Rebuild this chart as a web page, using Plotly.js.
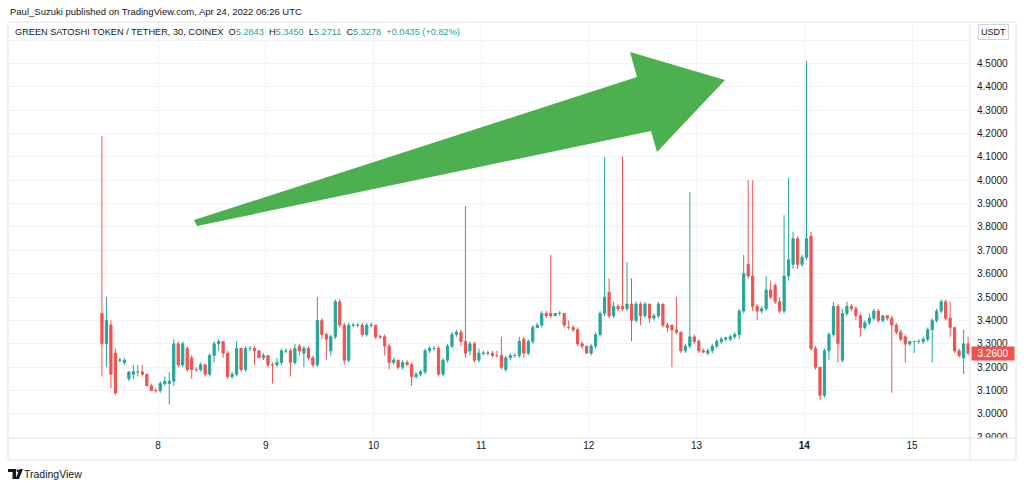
<!DOCTYPE html>
<html><head><meta charset="utf-8">
<script src="https://cdn.plot.ly/plotly-3.0.1.min.js"></script>
<style>html,body{margin:0;padding:0;background:#fff;}#chart{width:1024px;height:487px;}</style>
</head><body><div id="chart"></div>
<script>
// hourly candles, first one at day 7, 11:30
const startDay = 7 + 11.5 / 24;
const stepDays = 1 / 24;

const openP = [
3.43,3.30,3.38,3.26,3.23,3.22,3.15,3.17,3.18,3.18,3.17,3.12,3.10,3.10,3.13,3.13,3.14,3.30,3.21,3.28,
3.24,3.19,3.19,3.21,3.17,3.25,3.30,3.31,3.26,3.16,3.17,3.28,3.19,3.28,3.28,3.27,3.24,3.25,3.21,3.21,
3.22,3.27,3.27,3.22,3.29,3.26,3.28,3.24,3.21,3.40,3.34,3.27,3.33,3.48,3.38,3.23,3.38,3.38,3.38,3.34,
3.38,3.38,3.33,3.33,3.29,3.22,3.23,3.20,3.22,3.21,3.16,3.17,3.18,3.27,3.28,3.28,3.17,3.23,3.29,3.34,
3.35,3.31,3.27,3.30,3.23,3.26,3.26,3.26,3.25,3.25,3.19,3.24,3.25,3.25,3.32,3.26,3.31,3.37,3.38,3.43,
3.43,3.42,3.43,3.43,3.37,3.37,3.36,3.30,3.29,3.26,3.29,3.34,3.43,3.52,3.42,3.46,3.46,3.45,3.47,3.40,
3.47,3.42,3.47,3.41,3.42,3.47,3.38,3.38,3.36,3.35,3.27,3.29,3.33,3.31,3.27,3.26,3.27,3.29,3.31,3.32,
3.32,3.33,3.34,3.44,3.64,3.59,3.46,3.44,3.45,3.53,3.55,3.48,3.44,3.59,3.64,3.75,3.64,3.67,3.76,3.28,
3.20,3.08,3.27,3.34,3.46,3.23,3.43,3.46,3.45,3.42,3.37,3.39,3.41,3.44,3.40,3.42,3.41,3.38,3.35,3.33,
3.30,3.31,3.31,3.31,3.32,3.36,3.40,3.44,3.48,3.41,3.37,3.27,3.24,3.30];
const highP = [
4.19,3.50,3.40,3.28,3.24,3.24,3.18,3.21,3.21,3.21,3.17,3.13,3.11,3.14,3.16,3.18,3.32,3.31,3.31,3.29,
3.25,3.20,3.22,3.21,3.26,3.31,3.32,3.31,3.27,3.18,3.31,3.28,3.29,3.29,3.29,3.27,3.26,3.25,3.22,3.24,
3.28,3.28,3.28,3.30,3.30,3.29,3.29,3.25,3.50,3.41,3.35,3.34,3.49,3.49,3.39,3.39,3.39,3.39,3.39,3.39,
3.39,3.38,3.34,3.34,3.30,3.24,3.23,3.23,3.23,3.22,3.18,3.19,3.28,3.29,3.29,3.29,3.24,3.30,3.35,3.36,
3.36,3.89,3.31,3.31,3.28,3.27,3.27,3.27,3.27,3.33,3.25,3.26,3.26,3.33,3.33,3.32,3.38,3.39,3.44,3.44,
3.68,3.43,3.44,3.43,3.40,3.38,3.37,3.31,3.29,3.30,3.35,3.44,4.10,3.58,3.48,3.47,4.10,3.65,3.58,3.48,
3.48,3.48,3.47,3.43,3.48,3.47,3.39,3.38,3.50,3.35,3.30,3.95,3.34,3.32,3.28,3.28,3.30,3.32,3.33,3.33,
3.34,3.35,3.45,3.68,4.00,4.00,3.47,3.46,3.59,3.57,3.56,3.50,3.85,4.01,3.78,3.76,3.68,4.51,3.78,3.29,
3.20,3.28,3.35,3.48,3.47,3.45,3.48,3.47,3.46,3.43,3.40,3.43,3.45,3.45,3.42,3.42,3.42,3.39,3.36,3.34,
3.31,3.31,3.32,3.33,3.37,3.41,3.45,3.49,3.49,3.48,3.37,3.28,3.36,3.33];
const lowP = [
3.16,3.20,3.11,3.08,3.22,3.21,3.14,3.15,3.16,3.16,3.12,3.10,3.09,3.09,3.12,3.04,3.12,3.20,3.20,3.18,
3.15,3.18,3.18,3.16,3.16,3.22,3.27,3.24,3.15,3.15,3.16,3.18,3.18,3.27,3.21,3.24,3.23,3.20,3.13,3.20,
3.21,3.26,3.16,3.21,3.25,3.20,3.23,3.20,3.20,3.32,3.23,3.25,3.32,3.37,3.21,3.22,3.37,3.37,3.33,3.33,
3.37,3.32,3.32,3.25,3.19,3.21,3.19,3.19,3.21,3.12,3.15,3.16,3.17,3.26,3.27,3.16,3.16,3.22,3.28,3.33,
3.29,3.24,3.25,3.22,3.22,3.25,3.25,3.24,3.24,3.19,3.18,3.23,3.24,3.24,3.24,3.25,3.30,3.37,3.37,3.41,
3.41,3.42,3.42,3.37,3.36,3.35,3.29,3.28,3.26,3.25,3.28,3.33,3.42,3.41,3.41,3.44,3.44,3.44,3.31,3.39,
3.38,3.41,3.39,3.40,3.41,3.37,3.35,3.20,3.34,3.26,3.26,3.28,3.30,3.26,3.26,3.25,3.26,3.28,3.30,3.31,
3.31,3.32,3.32,3.43,3.58,3.44,3.40,3.43,3.44,3.49,3.47,3.43,3.43,3.57,3.62,3.62,3.63,3.66,3.27,3.19,
3.06,3.07,3.23,3.33,3.22,3.22,3.42,3.44,3.40,3.33,3.36,3.38,3.40,3.39,3.39,3.40,3.09,3.34,3.31,3.22,
3.29,3.26,3.30,3.30,3.31,3.22,3.39,3.43,3.40,3.33,3.26,3.24,3.17,3.25];
const closeP = [
3.30,3.40,3.17,3.09,3.23,3.23,3.18,3.18,3.18,3.17,3.12,3.10,3.10,3.13,3.14,3.14,3.30,3.21,3.30,3.19,
3.19,3.19,3.21,3.17,3.25,3.30,3.31,3.26,3.16,3.17,3.28,3.19,3.28,3.28,3.27,3.24,3.25,3.21,3.21,3.22,
3.27,3.27,3.22,3.28,3.27,3.28,3.24,3.21,3.40,3.34,3.32,3.33,3.48,3.38,3.23,3.38,3.38,3.38,3.34,3.38,
3.38,3.33,3.33,3.29,3.22,3.23,3.20,3.22,3.21,3.16,3.17,3.18,3.27,3.28,3.28,3.17,3.23,3.29,3.34,3.35,
3.31,3.26,3.30,3.23,3.26,3.26,3.26,3.25,3.25,3.20,3.24,3.25,3.25,3.31,3.26,3.31,3.37,3.38,3.43,3.42,
3.42,3.43,3.43,3.38,3.37,3.36,3.30,3.29,3.26,3.29,3.34,3.43,3.50,3.42,3.46,3.45,3.45,3.47,3.40,3.47,
3.42,3.47,3.41,3.42,3.47,3.38,3.37,3.36,3.35,3.27,3.29,3.33,3.31,3.27,3.265,3.27,3.29,3.31,3.32,3.325,
3.33,3.34,3.44,3.60,3.59,3.46,3.44,3.45,3.53,3.50,3.48,3.44,3.59,3.66,3.75,3.64,3.67,3.75,3.28,3.20,
3.08,3.27,3.34,3.46,3.30,3.43,3.46,3.45,3.42,3.37,3.39,3.41,3.44,3.40,3.42,3.41,3.38,3.35,3.32,3.30,
3.31,3.31,3.31,3.32,3.36,3.40,3.44,3.48,3.41,3.37,3.27,3.25,3.30,3.26];

const dayTicks = [8, 9, 10, 11, 12, 13, 14, 15];
const dayLabels = ['8', '9', '10', '11', '12', '13', '<b>14</b>', '15'];
const priceTicks = [2.9,3.0,3.1,3.2,3.3,3.4,3.5,3.6,3.7,3.8,3.9,4.0,4.1,4.2,4.3,4.4,4.5,4.6];
// the 4.6000 label sits under the USDT badge, so it is left blank
const priceLabels = ['2.9000','3.0000','3.1000','3.2000','3.3000','3.4000','3.5000','3.6000','3.7000',
                     '3.8000','3.9000','4.0000','4.1000','4.2000','4.3000','4.4000','4.5000',''];
const lastPrice = 3.26;

const xs = openP.map((_, i) => startDay + i * stepDays);

// pixel -> paper helpers (plot area 8..970 x 22..438)
const PL = 8, PR = 970, PT = 22, PB = 438;
const px = v => (v - PL) / (PR - PL);
const py = v => (PB - v) / (PB - PT);
const pathOf = pts => 'M ' + pts.map(p => px(p[0]).toFixed(5) + ',' + py(p[1]).toFixed(5)).join(' L ') + ' Z';

const UP = '#26a69a', DN = '#ef5350', GRID = '#f0f3fa', BORDER = '#e0e3eb', TXT = '#131722';
const FONT = 'Liberation Sans, Arial, sans-serif';

const trace = {
  type: 'candlestick', x: xs, open: openP, high: highP, low: lowP, close: closeP,
  increasing: {line: {color: UP, width: 1}, fillcolor: UP},
  decreasing: {line: {color: DN, width: 1}, fillcolor: DN},
  whiskerwidth: 0, hoverinfo: 'skip', showlegend: false
};

const arrowPts = [[194,220],[637,77],[630,52],[725,80],[657,152],[651,131],[197,226]];
const sp = '&nbsp;&nbsp;';
const val = t => '<span style="color:' + UP + '">' + t + '</span>';

const layout = {
  width: 1024, height: 487,
  margin: {l: PL, r: 1024 - PR, t: PT, b: 487 - PB, pad: 0},
  paper_bgcolor: '#ffffff', plot_bgcolor: '#ffffff',
  font: {family: FONT, color: TXT, size: 10},
  showlegend: false,
  xaxis: {
    type: 'linear', range: [6.607, 15.5385], tickvals: dayTicks, ticktext: dayLabels,
    showgrid: true, gridcolor: GRID, gridwidth: 1, zeroline: false, showline: false,
    ticks: '', tickfont: {size: 10, color: TXT, family: FONT},
    rangeslider: {visible: false}, fixedrange: true
  },
  yaxis: {
    side: 'right', range: [2.897, 4.677], tickvals: priceTicks, ticktext: priceLabels,
    showgrid: true, gridcolor: GRID, gridwidth: 1, zeroline: false, showline: false,
    ticks: '', ticklabelstandoff: 6, tickfont: {size: 10, color: TXT, family: FONT}, fixedrange: true
  },
  shapes: [
    // hide the lower half of the cut-off bottom price label
    {type: 'rect', xref: 'paper', yref: 'paper', x0: px(971), x1: px(1015), y0: py(459), y1: py(PB + 0.5),
     fillcolor: '#ffffff', line: {width: 0}, layer: 'above'},
    {type: 'rect', xref: 'paper', yref: 'paper', x0: px(8), x1: px(1016), y0: py(460), y1: py(22),
     line: {color: BORDER, width: 1}, fillcolor: 'rgba(0,0,0,0)', layer: 'above'},
    {type: 'line', xref: 'paper', yref: 'paper', x0: px(PR), x1: px(PR), y0: py(460), y1: py(22),
     line: {color: BORDER, width: 1}, layer: 'above'},
    {type: 'line', xref: 'paper', yref: 'paper', x0: px(8), x1: px(1016), y0: py(PB), y1: py(PB),
     line: {color: BORDER, width: 1}, layer: 'above'},
    {type: 'path', xref: 'paper', yref: 'paper', path: pathOf(arrowPts),
     fillcolor: '#4caf50', line: {width: 0}, layer: 'above'},
    // TradingView logo
    {type: 'path', xref: 'paper', yref: 'paper', path: pathOf([[8,469],[16,469],[16,479],[12.5,479],[12.5,472],[8,472]]),
     fillcolor: TXT, line: {width: 0}},
    {type: 'circle', xref: 'paper', yref: 'paper', x0: px(16.5), x1: px(19), y0: py(472), y1: py(469.5),
     fillcolor: TXT, line: {width: 0}},
    {type: 'path', xref: 'paper', yref: 'paper', path: pathOf([[19.5,469],[23,469],[19,479],[15.5,479]]),
     fillcolor: TXT, line: {width: 0}}
  ],
  annotations: [
    {xref: 'paper', yref: 'paper', x: px(8), y: py(11.5), xanchor: 'left', yanchor: 'middle', showarrow: false,
     text: 'Paul_Suzuki published on TradingView.com, Apr 24, 2022 06:26 UTC', font: {size: 9.5, color: TXT}},
    {xref: 'paper', yref: 'paper', x: px(13), y: py(32), xanchor: 'left', yanchor: 'middle', showarrow: false,
     text: 'GREEN SATOSHI TOKEN / TETHER, 30, COINEX' + sp + 'O' + val('5.2843') + sp + 'H' + val('5.3450') + sp + 'L' + val('5.2711') + sp + 'C' + val('5.3278') + sp + val('+0.0435 (+0.82%)'),
     font: {size: 9.2, color: TXT}},
    {xref: 'paper', yref: 'paper', x: px(993), y: py(32), xanchor: 'center', yanchor: 'middle', showarrow: false,
     text: 'USDT', font: {size: 9, color: TXT}, bgcolor: '#ffffff', bordercolor: '#d1d4dc', borderwidth: 1, borderpad: 2},
    {xref: 'paper', yref: 'y', x: px(PR + 0.5), y: lastPrice, xanchor: 'left', yanchor: 'middle', showarrow: false,
     text: lastPrice.toFixed(4), font: {size: 10, color: '#ffffff'}, bgcolor: DN, borderpad: 1, width: 40, height: 11, align: 'center'},
    {xref: 'paper', yref: 'paper', x: px(22), y: py(474), xanchor: 'left', yanchor: 'middle', showarrow: false,
     text: 'TradingView', font: {size: 10.5, color: TXT}}
  ]
};

Plotly.newPlot('chart', [trace], layout, {staticPlot: true, displayModeBar: false});
</script>
</body></html>
